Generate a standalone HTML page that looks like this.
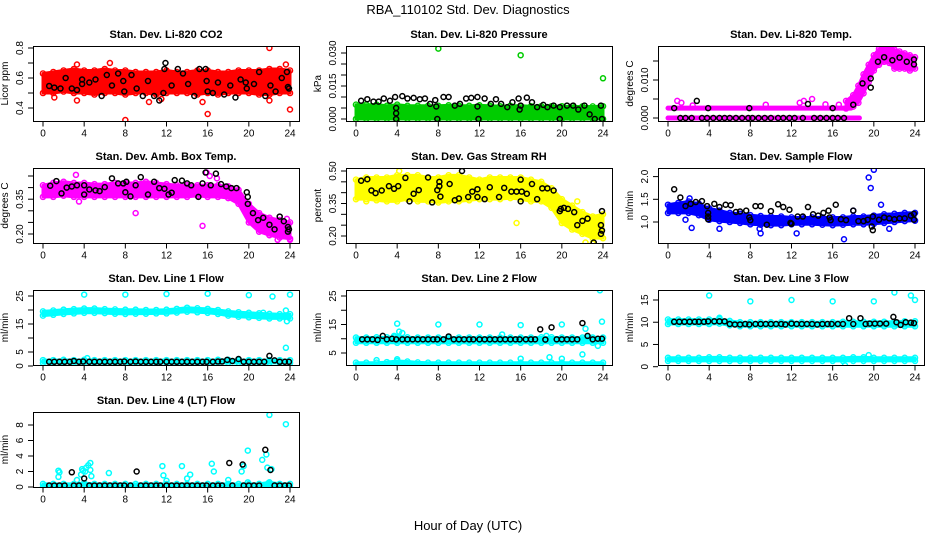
<!DOCTYPE html>
<html><head><meta charset="utf-8"><style>
html,body{margin:0;padding:0;background:#fff}
svg{display:block;font-family:"Liberation Sans",Arial,sans-serif}
</style></head><body>
<svg id="c" width="936" height="540" viewBox="0 0 936 540">
<text x="468" y="14" text-anchor="middle" font-size="13">RBA_110102  Std. Dev. Diagnostics</text>
<text x="468" y="530" text-anchor="middle" font-size="13">Hour of Day (UTC)</text>
</svg>
<script>
// ---------- data ----------
const xTicks = [0,4,8,12,16,20,24];
const hours25 = [0,1,2,3,4,5,6,7,8,9,10,11,12,13,14,15,16,17,18,19,20,21,22,23,24];

// CO2
const co2BandLo = [0.50,0.50,0.51,0.50,0.50,0.49,0.50,0.50,0.49,0.50,0.50,0.49,0.50,0.50,0.50,0.49,0.50,0.49,0.50,0.50,0.50,0.49,0.49,0.50,0.50];
const co2BandHi = [0.63,0.64,0.65,0.66,0.65,0.65,0.66,0.65,0.65,0.64,0.64,0.64,0.65,0.64,0.64,0.65,0.65,0.64,0.64,0.65,0.65,0.65,0.66,0.66,0.65];
const co2OutX = [8,22,16,24,3.3,6.5,15.5,22,23.6,10.3,3.3,11.5,1.1];
const co2OutY = [0.32,0.80,0.36,0.39,0.69,0.70,0.44,0.45,0.69,0.44,0.45,0.46,0.47];
const co2BlkX = [0.6,1.1,1.7,2.2,2.8,3.3,3.8,3.8,4.5,5.1,5.7,6.2,6.7,7.3,7.8,7.9,8.6,9.1,9.7,10.2,10.8,11.3,11.7,11.8,11.9,12.5,13.1,13.6,14.1,14.7,15.2,15.8,15.9,16.0,16.5,17.0,17.6,18.2,18.7,19.2,19.7,19.8,20.5,21.0,21.6,22.1,22.6,23.2,23.7,23.8,23.9];
const co2BlkY = [0.547,0.536,0.53,0.60,0.53,0.52,0.59,0.56,0.57,0.59,0.48,0.62,0.55,0.63,0.58,0.51,0.62,0.53,0.48,0.58,0.48,0.45,0.50,0.66,0.70,0.55,0.66,0.63,0.56,0.48,0.66,0.66,0.58,0.51,0.50,0.57,0.49,0.55,0.47,0.59,0.57,0.53,0.56,0.64,0.48,0.55,0.51,0.60,0.64,0.54,0.53];

// Pressure
const prBandLo = [0,0,0,0,0,0,0,0,0,0,0,0,0,0,0,0,0,0,0,0,0,0,0,0,0];
const prBandHi = [0.0065,0.0065,0.0065,0.006,0.0065,0.006,0.006,0.006,0.006,0.0062,0.006,0.006,0.0062,0.006,0.0058,0.006,0.006,0.0058,0.0058,0.0058,0.0058,0.0057,0.0057,0.0057,0.0058];
const prOutX = [8,16,24];
const prOutY = [0.032,0.029,0.0185];
const prBlkX = [0.5,1.1,1.7,2.2,2.7,3.3,3.8,3.9,3.9,3.9,4.5,5,5.6,6.2,6.7,7.2,7.7,7.8,7.9,8.5,9,9.6,10.1,10.7,11.2,11.8,11.8,11.9,12.5,13.1,13.6,14.1,14.7,15.2,15.8,15.9,16,16.6,17.1,17.6,18.2,18.6,19.2,19.8,19.8,20.5,21.1,21.6,22.2,22.7,23.2,23.8,23.9];
const prBlkY = [0.0083,0.009,0.0079,0.0079,0.0093,0.0083,0.010,0.005,0.0026,0,0.0104,0.0093,0.0096,0.009,0.0093,0.0069,0.0086,0.0057,0,0.010,0.010,0.0061,0.0069,0.0093,0.0096,0.010,0.0057,0,0.0093,0.0069,0.009,0.0069,0.0054,0.0076,0.0093,0.0043,0.0061,0.0097,0.0076,0.0054,0.0064,0.0054,0.0061,0.0054,0,0.0061,0.0061,0.0043,0.0061,0.0021,0,0.0061,0];

// Li-820 Temp
const tpRow0X = [0,18.6];
const tpRow0Y = [0,0];
const tpRow1X = [0,17.8];
const tpRow1Y = [0.0026,0.0026];
const tpRiseX = [17.3,18,18.5,19,19.5,20,20.5,21,21.5,22,22.5,23,23.5,24];
const tpRiseLo = [0.0025,0.003,0.004,0.0065,0.0095,0.0125,0.014,0.0148,0.0145,0.013,0.013,0.013,0.0125,0.013];
const tpRiseHi = [0.0045,0.006,0.0085,0.0115,0.014,0.0165,0.0182,0.019,0.0188,0.018,0.0175,0.017,0.0165,0.016];
const tpOutX = [0.9,1.3,2.4,9.5,12.8,13.2,14,15.3,16.6];
const tpOutY = [0.0045,0.004,0.0033,0.0035,0.004,0.0045,0.005,0.0036,0.0035];
const tpBlkX = [0.6,1.2,1.7,2.3,2.8,3.3,3.8,3.9,4.4,5,5.5,6,6.6,7.2,7.8,7.9,8.2,8.8,9.4,10,10.7,11.2,11.8,12.3,13.1,13.6,14.2,14.8,15.4,16,16,16.5,17.1,18,18.9,19.7,19.7,20.4,21,21.8,22.5,23.2,23.9,23.9];
const tpBlkY = [0.0026,0,0,0,0.0045,0,0,0.0026,0,0,0,0,0,0,0,0.0026,0,0,0,0,0,0,0,0,0,0.0037,0,0,0,0,0.0026,0,0,0.0035,0.0091,0.0104,0.008,0.0148,0.016,0.0152,0.0159,0.0148,0.0154,0.0141];

// Amb Box Temp
const abBandLo = [0.36,0.36,0.365,0.36,0.36,0.36,0.36,0.36,0.36,0.36,0.36,0.36,0.36,0.36,0.36,0.365,0.36,0.36,0.355,0.33,0.25,0.21,0.195,0.185,0.18];
const abBandHi = [0.41,0.42,0.425,0.42,0.42,0.415,0.415,0.42,0.42,0.42,0.425,0.42,0.415,0.41,0.41,0.41,0.41,0.41,0.405,0.39,0.33,0.29,0.27,0.26,0.25];
const abOutX = [3.5,9,15.5,15.9,16.2,16.9,3.2,22.8,24,23.7];
const abOutY = [0.34,0.29,0.235,0.465,0.45,0.44,0.455,0.175,0.175,0.265];
const abBlkX = [0.7,1.3,1.8,2.3,2.8,3.3,4,4,4.5,5.1,5.5,6,6.7,7.3,7.8,8,8.1,8.5,9,9.5,10.2,10.8,11.3,11.8,12.2,12.5,12.8,13.5,14,14.4,15.1,15.5,15.8,16.3,16.8,17.3,17.8,18.3,18.8,19.8,19.9,19.9,20.4,20.9,21.4,22,22.5,23,23.4,23.8,23.8,23.9];
const abBlkY = [0.408,0.428,0.375,0.40,0.405,0.41,0.41,0.37,0.392,0.388,0.385,0.402,0.44,0.418,0.418,0.38,0.425,0.362,0.41,0.445,0.37,0.425,0.398,0.395,0.37,0.378,0.432,0.43,0.418,0.41,0.36,0.418,0.465,0.41,0.46,0.415,0.405,0.398,0.398,0.38,0.36,0.33,0.29,0.26,0.27,0.24,0.22,0.275,0.255,0.23,0.21,0.22];

// Gas Stream RH
const rhBandLo = [0.37,0.37,0.365,0.36,0.36,0.37,0.36,0.36,0.355,0.36,0.36,0.365,0.37,0.37,0.37,0.375,0.37,0.36,0.36,0.33,0.26,0.23,0.21,0.19,0.19];
const rhBandHi = [0.46,0.47,0.47,0.47,0.48,0.48,0.48,0.47,0.47,0.48,0.48,0.47,0.46,0.47,0.47,0.47,0.47,0.46,0.45,0.42,0.37,0.34,0.31,0.29,0.30];
const rhOutX = [15.6,23,21.5,1,4.2,22.3];
const rhOutY = [0.26,0.165,0.36,0.36,0.50,0.17];
const rhBlkX = [0.5,1.1,1.5,1.9,2.5,3.2,3.7,4.1,4.8,5.2,5.6,6.1,7,7.4,7.9,8.1,8.1,8.2,9.1,9.6,10,10.3,10.9,11.3,11.8,11.8,12.5,13,13.9,14.4,15.1,15.6,16,16,16.1,16.6,17.1,17.6,18.1,18.6,19.2,19.8,19.9,20.2,20.6,21.2,21.5,22,22.5,23.1,23.8,23.8,23.9,23.9];
const rhBlkY = [0.455,0.462,0.41,0.398,0.41,0.43,0.418,0.43,0.468,0.36,0.395,0.412,0.47,0.355,0.412,0.45,0.43,0.382,0.44,0.365,0.373,0.50,0.38,0.405,0.38,0.416,0.37,0.425,0.38,0.422,0.405,0.405,0.36,0.46,0.405,0.395,0.44,0.37,0.42,0.42,0.41,0.315,0.325,0.33,0.325,0.31,0.25,0.27,0.28,0.17,0.25,0.21,0.225,0.315];

// Sample Flow
const sfBandLo = [1.2,1.2,1.2,1.15,1.05,1.02,1.0,0.98,0.95,0.94,0.93,0.93,0.95,0.95,0.95,0.94,0.93,0.94,0.95,0.95,0.96,0.98,1.0,1.02,1.03];
const sfBandHi = [1.38,1.42,1.45,1.4,1.3,1.25,1.2,1.18,1.15,1.13,1.12,1.12,1.1,1.1,1.1,1.1,1.1,1.1,1.12,1.12,1.14,1.17,1.18,1.2,1.2];
const sfOutX = [19.5,19.7,20,17.1,12.5,9,2.3,5,20.7,21.5,18,8.9,1.7,2.1];
const sfOutY = [1.98,1.75,2.15,0.62,0.75,0.75,0.87,0.85,1.38,0.85,1.25,0.85,1.05,1.52];
const sfBlkX = [0.6,1.2,1.7,2.2,2.7,3.3,3.8,3.9,3.9,3.9,4.5,5,5.6,6.1,6.6,7,7.6,7.9,8,8.5,9,9.6,10,10.7,11.2,11.8,11.9,12,12.6,13.1,13.6,14.1,14.6,15.1,15.6,15.7,15.8,16.3,16.8,17.3,18,18.5,19,19.4,19.8,19.9,19.9,20.5,21,21.5,22,22.5,23,23.6,23.9,23.9];
const sfBlkY = [1.72,1.54,1.35,1.4,1.44,1.46,1.35,1.2,1.12,1.06,1.4,1.33,1.38,1.37,1.22,1.23,1.25,1.1,1.04,1.35,1.35,0.94,1.24,1.39,1.33,1.27,0.98,0.96,1.12,1.12,1.33,1.17,1.14,1.2,1.25,1.1,1.04,1.38,1.06,1.04,1.25,1.02,1.02,1.05,0.9,0.82,1.12,1.05,1.1,1.08,1.06,1.08,1.08,1.14,1.18,1.05];

// Line 1 Flow
const l1BandLo = [18,18.3,18.6,18.8,19,19,18.9,18.7,18.6,18.7,18.7,18.8,18.8,19.1,19.4,19.2,19,18.6,18,17.6,17.4,17.2,17,17,17];
const l1BandHi = [19.5,19.8,20.1,20.3,20.5,20.5,20.3,20.2,20.1,20.1,20,20,20.1,20.4,20.8,20.6,20.4,20,19.5,19.2,19,18.8,18.6,18.5,18.5];
const l1Band2Lo = [1.1,1.1,1.1,1.1,1.1,1.1,1.1,1.1,1.1,1.1,1.1,1.1,1.1,1.1,1.1,1.1,1.1,1.1,1.1,1.1,1.1,1.1,1.1,1.1,1.1];
const l1Band2Hi = [2.1,2.1,2.2,2.1,2.2,2.1,2.1,2.1,2.1,2.1,2.1,2.1,2.1,2.1,2.1,2.1,2.1,2.2,2.2,2.1,2.1,2.1,2.1,2.1,2.1];
const l1OutX = [4,8,12,16,20,22.3,24,23.6,23.6,23.7,21.4,1.8,8.1,4.3];
const l1OutY = [25.5,25.5,25.7,25.8,25.3,24.8,25.5,19.8,6.5,16,19,0.6,0.3,2.8];
const l1BlkX = [0.6,1.1,1.6,2.1,2.6,3,3.5,3.9,4.5,5,5.5,6,6.5,7,7.5,7.9,8.5,9,9.5,10,10.5,11,11.4,12,12.5,13,13.5,14,14.5,15,15.5,15.9,16.5,17,17.4,17.9,18.4,19,19.5,20,20.5,21,21.5,22,22.5,23,23.5,23.9];
const l1BlkY = [1.5,1.5,1.5,1.5,1.5,1.8,1.5,1.6,1.5,1.5,1.5,1.5,1.5,1.5,1.5,1.6,1.5,1.6,1.5,1.5,1.5,1.5,1.5,1.5,1.5,1.5,1.5,1.5,1.5,1.5,1.5,1.5,1.5,1.6,1.6,2.2,1.8,2.5,1.5,1.5,1.5,1.5,1.5,3.6,2.0,1.5,1.5,1.5];

// Line 2 Flow
const l2BandLo = [8.6,8.6,8.6,8.6,8.6,8.6,8.6,8.6,8.6,8.6,8.6,8.6,8.6,8.6,8.6,8.6,8.6,8.6,8.6,8.6,8.6,8.6,8.6,8.6,8.6];
const l2BandHi = [10.4,10.4,10.5,10.5,10.6,10.5,10.4,10.4,10.4,10.4,10.4,10.4,10.4,10.4,10.4,10.4,10.4,10.4,10.5,10.5,10.4,10.4,10.4,10.4,10.4];
const l2Band2Lo = [0.4,0.4,0.4,0.4,0.5,0.5,0.4,0.4,0.4,0.4,0.4,0.4,0.4,0.4,0.4,0.4,0.4,0.4,0.4,0.4,0.4,0.4,0.4,0.4,0.4];
const l2Band2Hi = [1.6,1.6,1.6,1.8,2.2,2.0,1.7,1.6,1.6,1.6,1.6,1.6,1.6,1.6,1.6,1.6,1.6,1.6,1.6,1.6,1.6,1.6,1.6,1.6,1.6];
const l2OutX = [23.7,23.9,23.5,4,8,12,16,20,22,22.3,4.2,4.5,18.5,20,18.8,16,2,4,3.7,10.2,14.2,3.8,22.5];
const l2OutY = [27,16,7.5,15.3,15,15,14.8,15,4.5,13.5,12.5,12,11,3,3.5,3,2.5,2.8,11,9.5,11.5,10.8,10.5];
const l2BlkX = [0.6,1.1,1.6,2.1,2.6,3,3.5,3.9,4.5,5,5.5,6,6.5,7,7.5,7.9,8.5,9,9.5,10,10.5,11,11.4,12,12.5,13,13.5,14,14.5,15,15.5,15.9,16.5,17,17.4,17.9,18.4,19,19.5,20,20.5,21,21.5,22,22.5,23,23.5,23.9];
const l2BlkY = [9.8,9.8,9.8,9.6,11,9.8,10,9.8,9.8,9.8,9.8,9.8,9.8,9.8,9.8,9.8,9.8,10.8,9.8,9.8,9.8,9.8,9.8,9.8,9.8,9.8,9.8,9.8,9.8,9.8,9.8,9.8,9.8,9.8,9.8,13.3,9.7,14,9.8,9.8,9.8,9.8,9.8,15.5,11,9.8,10,10];

// Line 3 Flow
const l3BandLo = [9.6,9.6,9.6,9.6,9.6,9.7,9.3,9.1,9.1,9.1,9.1,9.1,9.1,9.1,9.1,9.1,9.1,9.1,9.1,9.1,9.1,9.1,9.1,9.1,9.1];
const l3BandHi = [10.6,10.6,10.6,10.6,10.6,10.7,10.3,10,10,10,10,10,10,10,10,10,10,10.1,10.1,10.1,10.1,10.1,10.1,10.2,10.2];
const l3Band2Lo = [1.3,1.3,1.3,1.3,1.3,1.3,1.3,1.3,1.3,1.3,1.3,1.3,1.3,1.3,1.3,1.3,1.3,1.3,1.3,1.3,1.3,1.3,1.3,1.3,1.3];
const l3Band2Hi = [2.0,2.0,2.0,2.0,2.1,2.1,2.0,2.0,2.0,2.0,2.0,2.0,2.0,2.0,2.0,2.0,2.0,2.0,2.1,2.1,2.0,2.0,2.0,2.0,2.0];
const l3OutX = [4,8,12,16,20,22,23.6,24,17.2,19.5,5];
const l3OutY = [16,14.7,15,14.7,14.7,16.7,16,15,0.3,2.6,11];
const l3BlkX = [0.6,1.1,1.6,2.1,2.6,3,3.5,3.9,4.5,5,5.5,6,6.5,7,7.5,7.9,8.5,9,9.5,10,10.5,11,11.4,12,12.5,13,13.5,14,14.5,15,15.5,15.9,16.5,17,17.6,18,18.7,19.2,19.6,20.1,20.6,21.2,21.9,22.2,22.6,23.1,23.6,23.9];
const l3BlkY = [10.1,10.1,10.1,10.1,10.1,10.1,10.1,10.2,10.2,10.2,10.2,9.6,9.5,9.5,9.6,9.5,9.6,9.6,9.6,9.6,9.6,9.6,9.5,9.7,9.6,9.6,9.6,9.6,9.5,9.6,9.6,9.6,9.6,9.6,10.9,9.6,10.9,9.6,9.7,9.7,9.7,9.7,11.2,10,9.4,10,9.9,9.8];

// Line 4 Flow
const l4BandLo = [0,0,0,0,0,0,0,0,0,0,0,0,0,0,0,0,0,0,0,0,0,0,0,0,0];
const l4BandHi = [0.4,0.4,0.4,0.4,0.5,0.4,0.4,0.4,0.4,0.4,0.4,0.4,0.4,0.4,0.4,0.4,0.4,0.4,0.4,0.4,0.4,0.4,0.6,0.4,0.4];
const l4OutX = [1.5,1.5,1.6,3.7,3.9,4.2,4.4,4.6,4.6,4.7,3.3,6.4,11.6,11.7,12,13.5,14,14.3,16.4,16.6,18,19.3,19.5,19.9,19.9,21.3,21.7,21.8,22,23.6,22.2,21.9,3.8,4.1];
const l4OutY = [2.1,1.3,1.9,1.6,2.1,2.5,2.8,3.1,2.2,1.4,0.9,1.8,2.7,1.5,0.8,2.7,1.1,1.6,3,2,0.9,2,2.7,4.7,0.6,3.5,4.2,2.5,9.3,8.1,2.3,0.5,2.3,2.0];
const l4BlkX = [0.6,1.1,1.6,2.1,2.8,3,3.5,4,4.5,5,5.5,6,6.5,7,7.5,7.9,8.5,9.1,9.5,10,10.5,11,11.4,12,12.5,13,13.5,14,14.5,15,15.5,15.9,16.5,17,17.4,18.1,18.4,19.4,19.5,20,20.5,21,21.6,22.1,22.5,23,23.5,23.9];
const l4BlkY = [0.2,0.2,0.2,0.2,1.9,0.2,0.2,1.1,0.2,0.2,0.2,0.2,0.2,0.2,0.2,0.2,0.2,2.0,0.2,0.2,0.2,0.2,0.2,0.2,0.2,0.2,0.2,0.2,0.2,0.2,0.2,0.2,0.2,0.2,0.2,3.1,0.2,2.9,0.2,0.2,0.2,0.2,4.8,2.2,0.2,0.2,0.2,0.2];

// ---------- drawing ----------
const NS = 'http://www.w3.org/2000/svg';
const svg = document.getElementById('c');
const colLeft = [33,346,658], rowTop = [46,168,290,412], boxW = 266, boxH = 75;
function mk(tag, attrs, parent){ const e=document.createElementNS(NS,tag); for(const k in attrs) e.setAttribute(k,attrs[k]); (parent||svg).appendChild(e); return e; }

function panel(o){
  const L = colLeft[o.col], T = rowTop[o.row];
  const g = mk('g',{});
  
  
  const sx = h => L + 10 + h/24*247;
  const sy = v => o.y0px - (v - o.y0)/(o.y1 - o.y0)*(o.y0px - o.y1px);
  const clip = 'clip-'+o.name;
  const cp = mk('clipPath',{id:clip},g); mk('rect',{x:L,y:T,width:boxW,height:boxH},cp);
  const pg = mk('g',{'clip-path':'url(#'+clip+')'},g);
  
  
  (o.bands||[]).forEach(b=>{
    const xs=b.x, pts=[];
    for(let i=0;i<xs.length;i++) pts.push(sx(xs[i])+','+sy(b.hi[i]));
    for(let i=xs.length-1;i>=0;i--) pts.push(sx(xs[i])+','+sy(b.lo[i]));
    const p = mk('polygon',{points:pts.join(' '),fill:o.color,stroke:o.color,'stroke-width':3,'stroke-linejoin':'round'},pg);
    
    
    // ragged edge circles at each sampled envelope value
    for(let i=0;i<xs.length;i++){
      [b.hi[i], b.lo[i]].forEach(v=>{
        const c = mk('circle',{cx:sx(xs[i]),cy:sy(v),r:2.6,fill:'none',stroke:o.color,'stroke-width':1.4},pg);
        
        
      });
    }
  });
  (o.rows||[]).forEach(r=>{
    const ln = mk('line',{x1:sx(r.x[0]),x2:sx(r.x[1]),y1:sy(r.y[0]),y2:sy(r.y[1]),stroke:o.color,'stroke-width':5,'stroke-linecap':'round'},pg);
    
    
  });
  o.outX.forEach((x,i)=>{
    const c = mk('circle',{cx:sx(x),cy:sy(o.outY[i]),r:2.5,fill:'none',stroke:o.color,'stroke-width':1.5},pg);
    
    
  });
  o.blkX.forEach((x,i)=>{
    const c = mk('circle',{cx:sx(x),cy:sy(o.blkY[i]),r:2.5,fill:'none',stroke:'#000','stroke-width':1.5},pg);
    
    
  });
  const box = mk('rect',{x:L+0.5,y:T+0.5,width:boxW,height:boxH,fill:'none',stroke:'#000','stroke-width':1},g);
  
  
  const t = mk('text',{x:L+boxW/2,y:T-8,'text-anchor':'middle','font-size':11,'font-weight':'bold'},g);
  t.textContent = o.title;
  
  
  const B = T+boxH+0.5;
  xTicks.forEach(h=>{
    mk('line',{x1:sx(h),x2:sx(h),y1:B,y2:B+5,stroke:'#000'},g);
    const tl = mk('text',{x:sx(h),y:B+15,'text-anchor':'middle','font-size':10},g);
    tl.textContent = h;
    
    
  });
  o.yTicks.forEach(v=>{
    const y = sy(v);
    mk('line',{x1:L,x2:L-5,y1:y,y2:y,stroke:'#000'},g);
  });
  o.yLabels.forEach(v=>{
    const y = sy(v), x = L-10;
    const tl = mk('text',{x:x,y:y,'text-anchor':'middle','font-size':10,transform:'rotate(-90 '+x+' '+y+')'},g);
    tl.textContent = v.toFixed(o.dec);
    
    
  });
  const yl = L-25, ym = T+boxH/2;
  const yt = mk('text',{x:yl,y:ym,'text-anchor':'middle','font-size':10,transform:'rotate(-90 '+yl+' '+ym+')'},g);
  yt.textContent = o.ylab;
  
  
}

panel({name:'co2-panel',col:0,row:0,title:'Stan. Dev. Li-820 CO2',ylab:'Licor ppm',color:'#ff0000',
  y0:0.4,y0px:108,y1:0.8,y1px:48,yTicks:[0.4,0.5,0.6,0.7,0.8],yLabels:[0.4,0.6,0.8],dec:1,
  bands:[{x:hours25,lo:co2BandLo,hi:co2BandHi}],outX:co2OutX,outY:co2OutY,blkX:co2BlkX,blkY:co2BlkY});
panel({name:'pressure-panel',col:1,row:0,title:'Stan. Dev. Li-820 Pressure',ylab:'kPa',color:'#00cc00',
  y0:0,y0px:119,y1:0.03,y1px:53,yTicks:[0,0.005,0.01,0.015,0.02,0.025,0.03],yLabels:[0,0.015,0.03],dec:3,
  bands:[{x:hours25,lo:prBandLo,hi:prBandHi}],outX:prOutX,outY:prOutY,blkX:prBlkX,blkY:prBlkY});
panel({name:'li820-temp-panel',col:2,row:0,title:'Stan. Dev. Li-820 Temp.',ylab:'degrees C',color:'#ff00ff',
  y0:0,y0px:118,y1:0.01,y1px:80,yTicks:[0,0.005,0.01,0.015],yLabels:[0,0.01],dec:3,
  rows:[{x:tpRow0X,y:tpRow0Y},{x:tpRow1X,y:tpRow1Y}],bands:[{x:tpRiseX,lo:tpRiseLo,hi:tpRiseHi}],
  outX:tpOutX,outY:tpOutY,blkX:tpBlkX,blkY:tpBlkY});
panel({name:'amb-box-temp-panel',col:0,row:1,title:'Stan. Dev. Amb. Box Temp.',ylab:'degrees C',color:'#ff00ff',
  y0:0.2,y0px:234,y1:0.45,y1px:176,yTicks:[0.2,0.25,0.3,0.35,0.4,0.45],yLabels:[0.2,0.35],dec:2,
  bands:[{x:hours25,lo:abBandLo,hi:abBandHi}],outX:abOutX,outY:abOutY,blkX:abBlkX,blkY:abBlkY});
panel({name:'gas-stream-rh-panel',col:1,row:1,title:'Stan. Dev. Gas Stream RH',ylab:'percent',color:'#ffff00',
  y0:0.2,y0px:236,y1:0.5,y1px:171,yTicks:[0.2,0.25,0.3,0.35,0.4,0.45,0.5],yLabels:[0.2,0.35,0.5],dec:2,
  bands:[{x:hours25,lo:rhBandLo,hi:rhBandHi}],outX:rhOutX,outY:rhOutY,blkX:rhBlkX,blkY:rhBlkY});
panel({name:'sample-flow-panel',col:2,row:1,title:'Stan. Dev. Sample Flow',ylab:'ml/min',color:'#0000ff',
  y0:1.0,y0px:222,y1:2.0,y1px:176.6,yTicks:[1,1.5,2],yLabels:[1,1.5,2],dec:1,
  bands:[{x:hours25,lo:sfBandLo,hi:sfBandHi}],outX:sfOutX,outY:sfOutY,blkX:sfBlkX,blkY:sfBlkY});
panel({name:'line1-flow-panel',col:0,row:2,title:'Stan. Dev. Line 1 Flow',ylab:'ml/min',color:'#00ffff',
  y0:0,y0px:366,y1:25,y1px:296,yTicks:[0,5,10,15,20,25],yLabels:[0,5,15,25],dec:0,
  bands:[{x:hours25,lo:l1BandLo,hi:l1BandHi},{x:hours25,lo:l1Band2Lo,hi:l1Band2Hi}],outX:l1OutX,outY:l1OutY,blkX:l1BlkX,blkY:l1BlkY});
panel({name:'line2-flow-panel',col:1,row:2,title:'Stan. Dev. Line 2 Flow',ylab:'ml/min',color:'#00ffff',
  y0:5,y0px:353,y1:25,y1px:296,yTicks:[5,10,15,20,25],yLabels:[5,15,25],dec:0,
  bands:[{x:hours25,lo:l2BandLo,hi:l2BandHi},{x:hours25,lo:l2Band2Lo,hi:l2Band2Hi}],outX:l2OutX,outY:l2OutY,blkX:l2BlkX,blkY:l2BlkY});
panel({name:'line3-flow-panel',col:2,row:2,title:'Stan. Dev. Line 3 Flow',ylab:'ml/min',color:'#00ffff',
  y0:0,y0px:366.7,y1:15,y1px:300,yTicks:[0,5,10,15],yLabels:[0,5,10,15],dec:0,
  bands:[{x:hours25,lo:l3BandLo,hi:l3BandHi},{x:hours25,lo:l3Band2Lo,hi:l3Band2Hi}],outX:l3OutX,outY:l3OutY,blkX:l3BlkX,blkY:l3BlkY});
panel({name:'line4-flow-panel',col:0,row:3,title:'Stan. Dev. Line 4 (LT) Flow',ylab:'ml/min',color:'#00ffff',
  y0:0,y0px:487,y1:8,y1px:425,yTicks:[0,2,4,6,8],yLabels:[0,2,4,6,8],dec:0,
  bands:[{x:hours25,lo:l4BandLo,hi:l4BandHi}],outX:l4OutX,outY:l4OutY,blkX:l4BlkX,blkY:l4BlkY});
</script>
</body></html>
